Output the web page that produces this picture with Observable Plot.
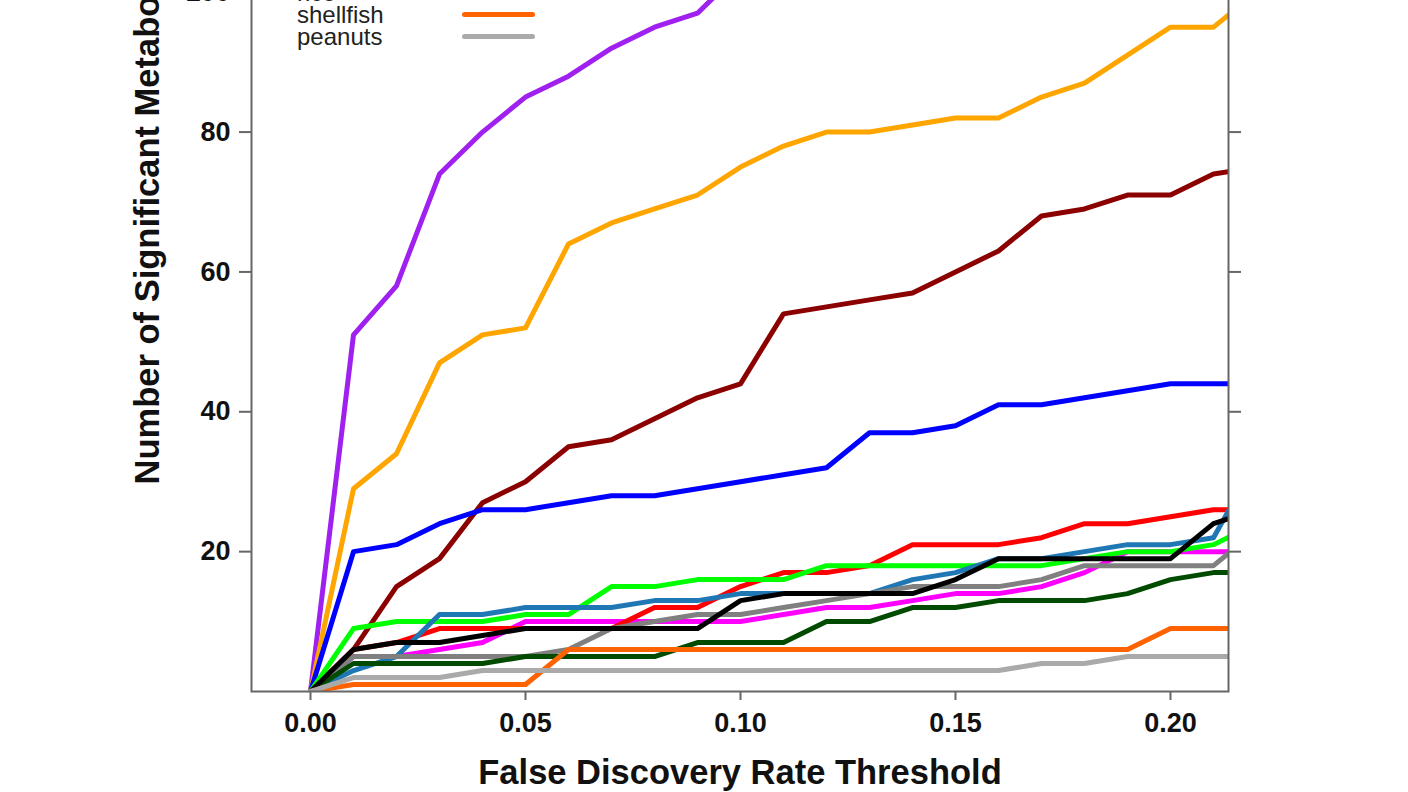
<!DOCTYPE html>
<html><head><meta charset="utf-8">
<script src="https://cdn.jsdelivr.net/npm/d3@7"></script>
<script src="https://cdn.jsdelivr.net/npm/@observablehq/plot@0.6"></script>
<style>
html,body{margin:0;padding:0;background:#fff;overflow:hidden;}
#wrap{position:relative;width:1408px;height:792px;overflow:hidden;background:#fff;}
#chart{position:absolute;left:0;top:-320px;}
.legend{position:absolute;left:0;top:0;width:1408px;height:60px;font-family:"Liberation Sans",Arial,sans-serif;font-size:24px;color:#222;}
.legend .row{position:absolute;left:297px;line-height:22px;white-space:nowrap;}
.legend .sw{position:absolute;left:462px;width:73px;height:5px;border-radius:3px;}
</style></head><body>
<div id="wrap"><div id="chart"></div><div class="legend" id="legend"></div></div>
<script>
// False discovery rate thresholds (x)
const fdr = [0.00,0.01,0.02,0.03,0.04,0.05,0.06,0.07,0.08,0.09,0.10,0.11,0.12,0.13,0.14,0.15,0.16,0.17,0.18,0.19,0.20,0.21,0.22];

// Number of significant metabolites per series
const purpleVals    = [0,51,58,74,80,85,88,92,95,97,103];
const orangeVals    = [0,29,34,47,51,52,64,67,69,71,75,78,80,80,81,82,82,85,87,91,95,95,100];
const darkredVals   = [0,6,15,19,27,30,35,36,39,42,44,54,55,56,57,60,63,68,69,71,71,74,75];
const blueVals      = [0,20,21,24,26,26,27,28,28,29,30,31,32,37,37,38,41,41,42,43,44,44,44];
const magentaVals   = [0,5,5,6,7,10,10,10,10,10,10,11,12,12,13,14,14,15,17,20,20,20,20];
const redVals       = [0,6,7,9,9,9,9,9,12,12,15,17,17,18,21,21,21,22,24,24,25,26,26];
const greenVals     = [0,9,10,10,10,11,11,15,15,16,16,16,18,18,18,18,18,18,19,20,20,21,24];
const steelblueVals = [0,3,5,11,11,12,12,12,13,13,14,14,14,14,16,17,19,19,20,21,21,22,33];
const grayVals      = [0,5,5,5,5,5,6,9,10,11,11,12,13,14,15,15,15,16,18,18,18,18,23];
const darkgreenVals = [0,4,4,4,4,5,5,5,5,7,7,7,10,10,12,12,13,13,13,14,16,17,17];
const blackVals     = [0,6,7,7,8,9,9,9,9,9,13,14,14,14,14,16,19,19,19,19,19,24,26];
const shellfishVals = [0,1,1,1,1,1,6,6,6,6,6,6,6,6,6,6,6,6,6,6,9,9,9];
const peanutsVals   = [0,2,2,2,3,3,3,3,3,3,3,3,3,3,3,3,3,4,4,5,5,5,5];

const seriesNames  = ["series 1","series 2","series 3","series 4","series 5","series 6","series 7","series 8","series 9","series 10","series 11","shellfish","peanuts"];
const seriesColors = ["#A020F0","#FFA500","#8B0000","#0000FF","#FF00FF","#FF0000","#00FF00","#1F78B4","#808080","#004B00","#000000","#FF6200","#AAAAAA"];
const seriesValues = [purpleVals,orangeVals,darkredVals,blueVals,magentaVals,redVals,greenVals,steelblueVals,grayVals,darkgreenVals,blackVals,shellfishVals,peanutsVals];

const yTicks = [20,40,60,80,100,120];
const xTicks = [0.00,0.05,0.10,0.15,0.20];
const xLabel = "False Discovery Rate Threshold";
const yLabel = "Number of Significant Metabolites";

const legendLabels = ["rice","shellfish","peanuts"];
const legendColors = [null,"#FF6200","#AAAAAA"];

const rows = seriesNames.flatMap((name, i) =>
  seriesValues[i].map((v, j) => ({series: name, fdr: fdr[j], count: v})));

const W = 1408, H = 1112;
const chart = Plot.plot({
  width: W, height: H,
  marginLeft: 251, marginRight: 180, marginTop: 39, marginBottom: 101,
  style: {fontFamily: "'Liberation Sans', Arial, sans-serif", fontWeight: "bold", background: "white", color: "#111", overflow: "visible"},
  x: {domain: [-0.01372, 0.21349]},
  y: {domain: [0, 139]},
  color: {domain: seriesNames, range: seriesColors},
  marks: [
    Plot.line(rows, {x: "fdr", y: "count", z: "series", stroke: "series", strokeWidth: 5, strokeLinejoin: "round", clip: true}),
    Plot.frame({stroke: "#666", strokeWidth: 2}),
    Plot.axisY({anchor: "left", ticks: yTicks, tickSize: 12, tickPadding: 9, fontSize: 27, label: null, stroke: "#666", strokeWidth: 2, fill: "#111"}),
    Plot.axisY({anchor: "right", ticks: yTicks, tickSize: 12, tickFormat: () => "", label: null, stroke: "#666", strokeWidth: 2}),
    Plot.axisX({anchor: "bottom", ticks: xTicks, tickSize: 9, tickPadding: 12, tickFormat: d3.format(".2f"), fontSize: 27, label: null, stroke: "#666", strokeWidth: 2, fill: "#111"}),
    Plot.text([xLabel], {frameAnchor: "bottom", dy: 81, lineAnchor: "middle", textAnchor: "middle", fontSize: 34.5, fontWeight: "bold", fill: "#111"}),
    Plot.text([yLabel], {frameAnchor: "left", dx: -104, rotate: -90, lineAnchor: "middle", textAnchor: "middle", fontSize: 34.5, fontWeight: "bold", fill: "#111"})
  ]
});
document.getElementById("chart").appendChild(chart);

// Legend (top-left, partly outside the visible area as in the reference)
const leg = document.getElementById("legend");
const rowTops = [-18, 3.8, 25.5];
legendLabels.forEach((lab, i) => {
  const r = document.createElement("div");
  r.className = "row";
  r.style.top = rowTops[i] + "px";
  r.textContent = lab;
  leg.appendChild(r);
  if (legendColors[i]) {
    const s = document.createElement("div");
    s.className = "sw";
    s.style.top = (rowTops[i] + 8.5) + "px";
    s.style.background = legendColors[i];
    leg.appendChild(s);
  }
});
</script>
</body></html>
